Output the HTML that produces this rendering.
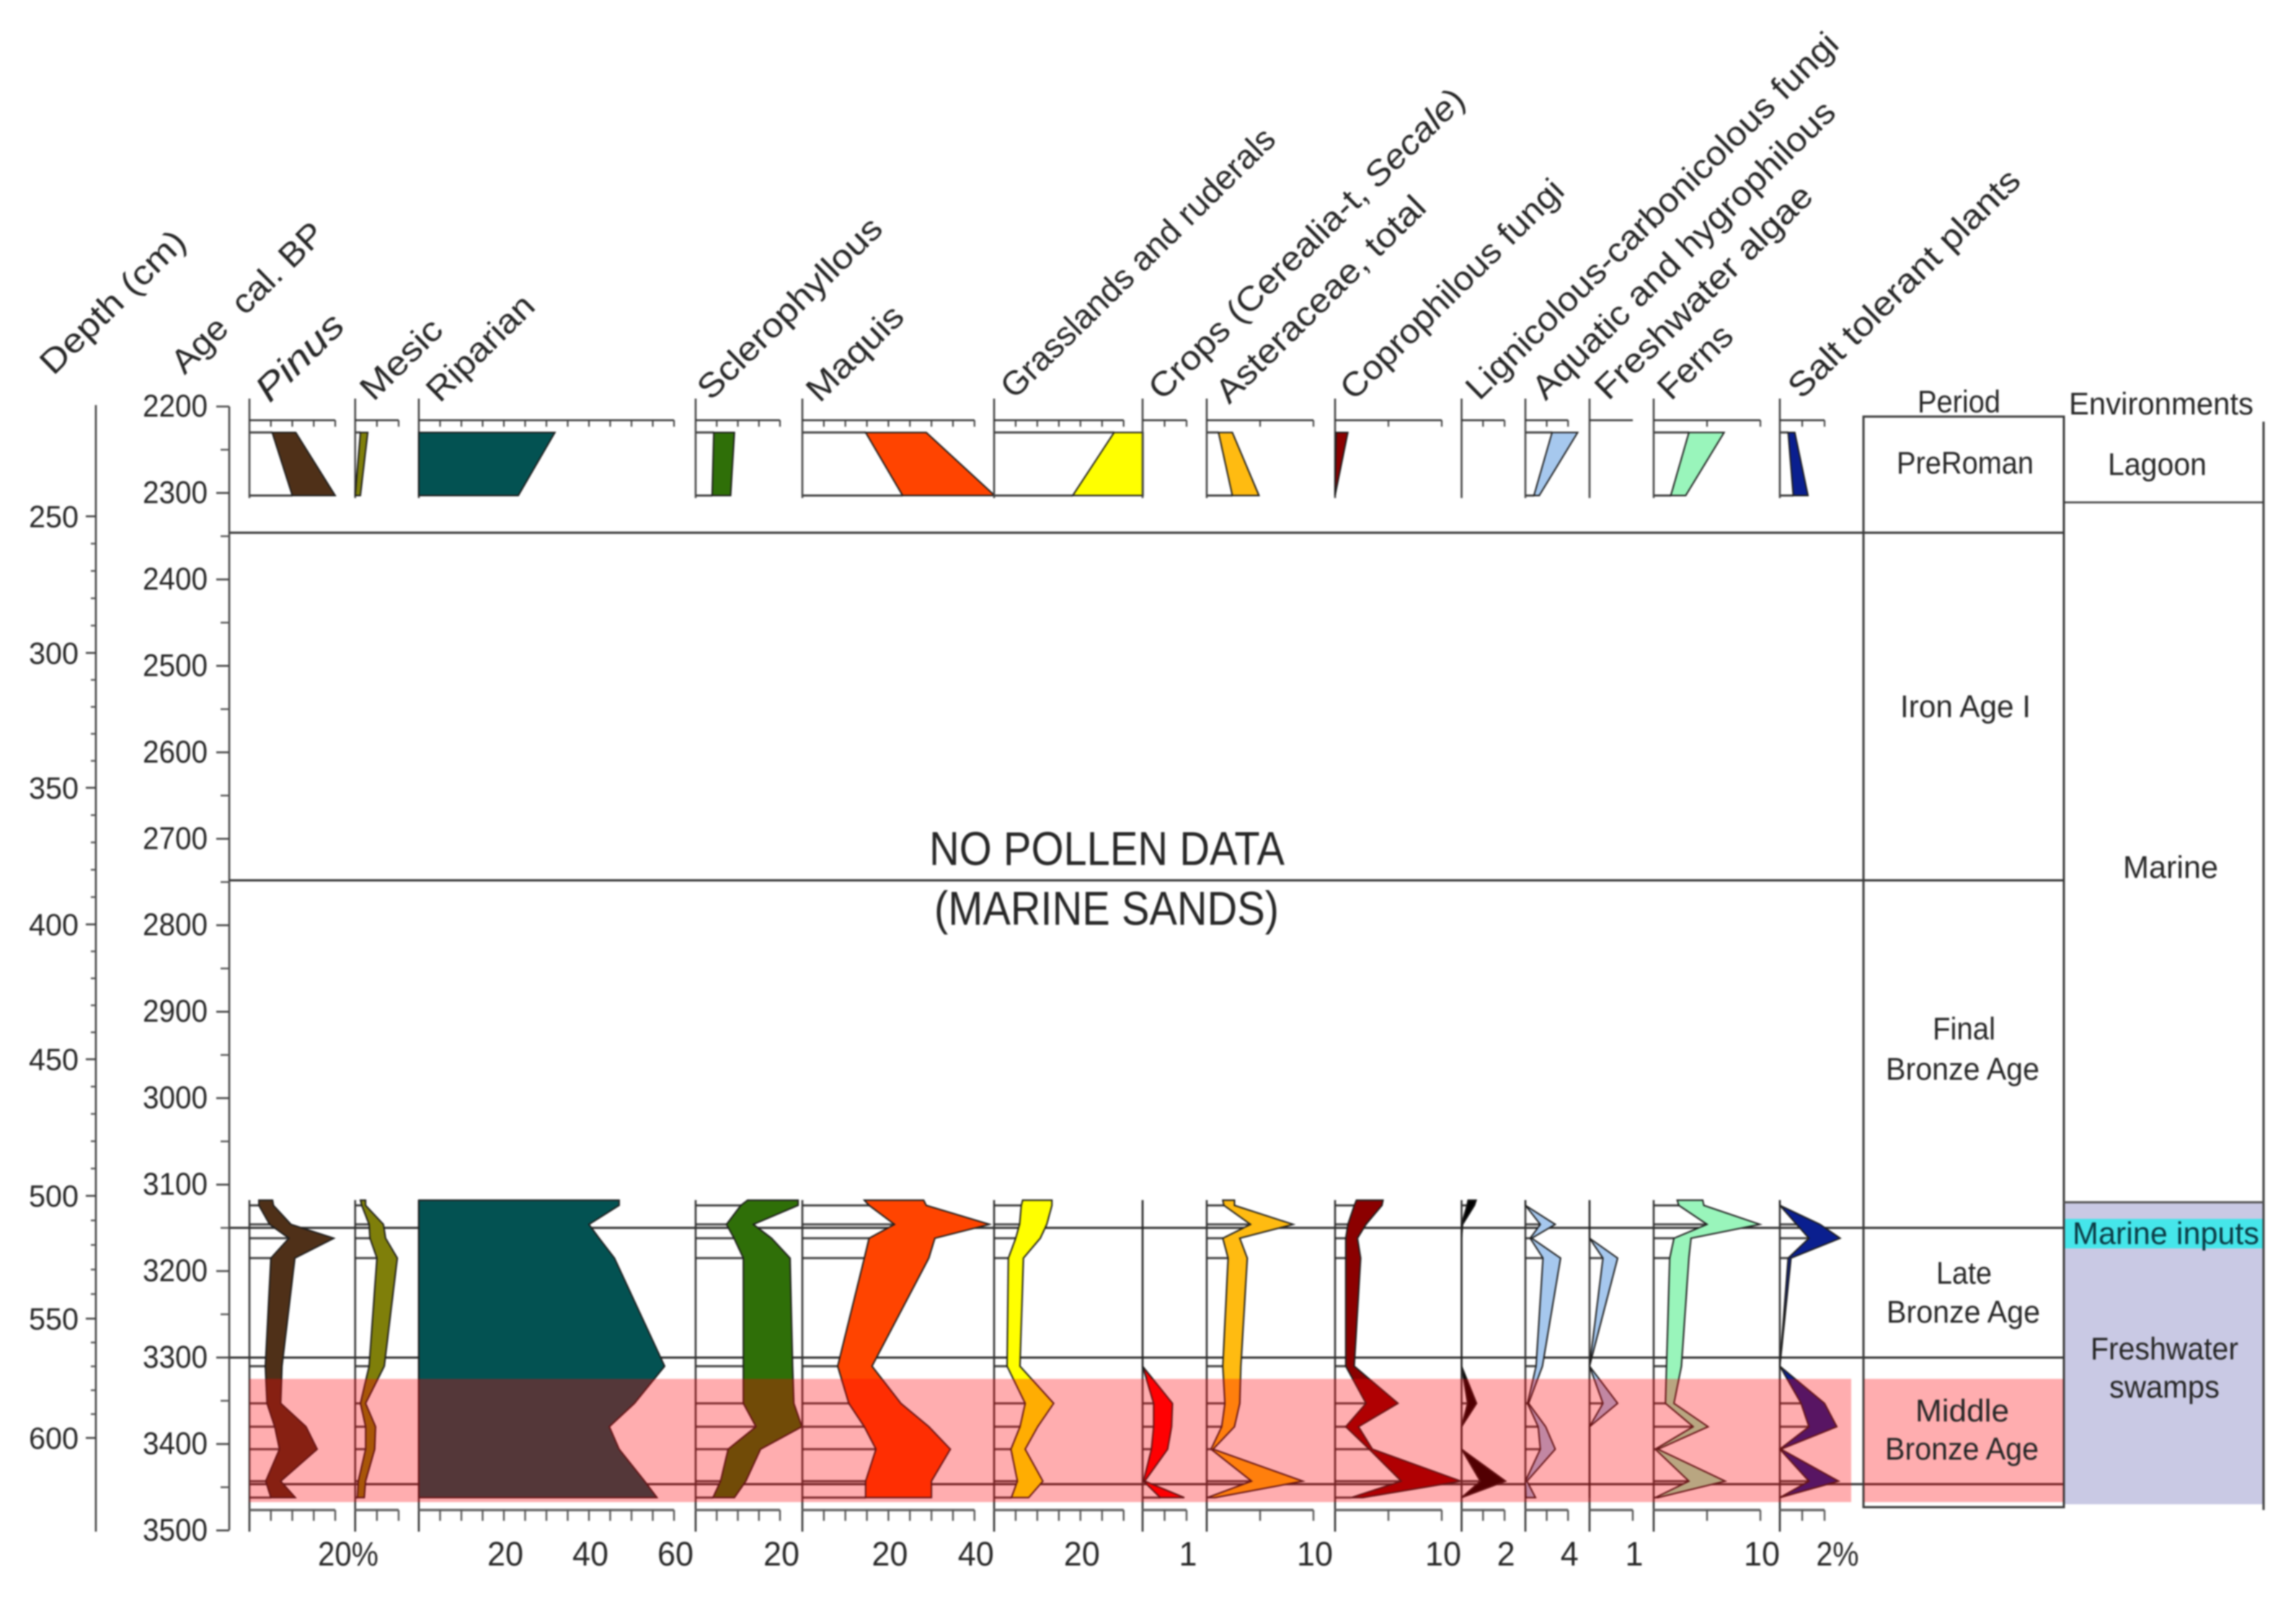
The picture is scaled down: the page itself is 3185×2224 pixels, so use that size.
<!DOCTYPE html>
<html lang="en">
<head>
<meta charset="utf-8">
<title>Pollen diagram</title>
<style>
  html, body { margin: 0; padding: 0; background: #fff; }
  #chart { display: block; width: 3185px; height: 2224px; filter: blur(1px); }
  text { font-family: "Liberation Sans", sans-serif; fill: #262626; }
</style>
</head>
<body>
<svg id="chart" xmlns="http://www.w3.org/2000/svg" width="3185" height="2224" viewBox="0 0 3185 2224">
  <rect x="0" y="0" width="3185" height="2224" fill="#fff"/>

  <g id="env-backdrop">
    <rect x="2864" y="1668" width="276" height="419" fill="#c9c9e4"/>
    <rect x="2864" y="1691" width="276" height="41" fill="#45e6ea"/>
  </g>

  <g id="long-lines"></g>
  <g id="panels"></g>
  <g id="axes"></g>

  <g id="boxes">
    <rect x="2585" y="578" width="278" height="1513" fill="none" stroke="#3a3a3a" stroke-width="3"/>
    <line x1="3140" y1="585" x2="3140" y2="2095" stroke="#3a3a3a" stroke-width="3"/>
    <line x1="2863" y1="697" x2="3140" y2="697" stroke="#3a3a3a" stroke-width="2.5"/>
    <line x1="2863" y1="1668" x2="3140" y2="1668" stroke="#555" stroke-width="3"/>
  </g>

  <g>
    <rect x="346" y="1913" width="2222" height="171" fill="rgb(255,0,5)" fill-opacity="0.32"/>
    <rect x="2586" y="1913" width="276" height="171" fill="rgb(255,0,5)" fill-opacity="0.32"/>
  </g>

  <g font-size="47">
    <text transform="translate(74,522) rotate(-44.5)" textLength="262" lengthAdjust="spacingAndGlyphs">Depth (cm)</text>
    <text transform="translate(256,521) rotate(-44.5)" textLength="276" lengthAdjust="spacingAndGlyphs" xml:space="preserve">Age  cal. BP</text>
    <text transform="translate(374,560) rotate(-44.5)" textLength="150" lengthAdjust="spacingAndGlyphs" font-style="italic" font-size="50">Pinus</text>
    <text transform="translate(518,558) rotate(-44.5)" textLength="139" lengthAdjust="spacingAndGlyphs">Mesic</text>
    <text transform="translate(610,560) rotate(-44.5)" textLength="189" lengthAdjust="spacingAndGlyphs">Riparian</text>
    <text transform="translate(986,557) rotate(-44.5)" textLength="338" lengthAdjust="spacingAndGlyphs">Sclerophyllous</text>
    <text transform="translate(1137,560) rotate(-44.5)" textLength="168" lengthAdjust="spacingAndGlyphs">Maquis</text>
    <text transform="translate(1407,555) rotate(-44.5)" textLength="512" lengthAdjust="spacingAndGlyphs">Grasslands and ruderals</text>
    <text transform="translate(1612,557) rotate(-44.5)" textLength="593" lengthAdjust="spacingAndGlyphs">Crops (Cerealia-t, <tspan font-style="italic">Secale</tspan>)</text>
    <text transform="translate(1705,562) rotate(-44.5)" textLength="387" lengthAdjust="spacingAndGlyphs">Asteraceae, total</text>
    <text transform="translate(1878,557) rotate(-44.5)" textLength="413" lengthAdjust="spacingAndGlyphs">Coprophilous fungi</text>
    <text transform="translate(2052,557) rotate(-44.5)" textLength="703" lengthAdjust="spacingAndGlyphs">Lignicolous-carbonicolous fungi</text>
    <text transform="translate(2144,557) rotate(-44.5)" textLength="568" lengthAdjust="spacingAndGlyphs">Aquatic and hygrophilous</text>
    <text transform="translate(2231,557) rotate(-44.5)" textLength="402" lengthAdjust="spacingAndGlyphs">Freshwater algae</text>
    <text transform="translate(2318,557) rotate(-44.5)" textLength="125" lengthAdjust="spacingAndGlyphs">Ferns</text>
    <text transform="translate(2499,555) rotate(-44.5)" textLength="430" lengthAdjust="spacingAndGlyphs">Salt tolerant plants</text>
  </g>

  <g font-size="66">
    <text x="1289" y="1200" textLength="493" lengthAdjust="spacingAndGlyphs">NO POLLEN DATA</text>
    <text x="1296" y="1283" textLength="478" lengthAdjust="spacingAndGlyphs">(MARINE SANDS)</text>
  </g>

  <g font-size="44">
    <text x="2660" y="572" textLength="115" lengthAdjust="spacingAndGlyphs">Period</text>
    <text x="2631" y="657" textLength="190" lengthAdjust="spacingAndGlyphs">PreRoman</text>
    <text x="2636" y="995" textLength="181" lengthAdjust="spacingAndGlyphs">Iron Age I</text>
    <text x="2681" y="1442" textLength="87" lengthAdjust="spacingAndGlyphs">Final</text>
    <text x="2616" y="1498" textLength="213" lengthAdjust="spacingAndGlyphs">Bronze Age</text>
    <text x="2686" y="1781" textLength="77" lengthAdjust="spacingAndGlyphs">Late</text>
    <text x="2617" y="1835" textLength="213" lengthAdjust="spacingAndGlyphs">Bronze Age</text>
    <text x="2657" y="1972" textLength="130" lengthAdjust="spacingAndGlyphs">Middle</text>
    <text x="2615" y="2025" textLength="213" lengthAdjust="spacingAndGlyphs">Bronze Age</text>
  </g>

  <g font-size="44">
    <text x="2870" y="575" textLength="256" lengthAdjust="spacingAndGlyphs">Environments</text>
    <text x="2924" y="659" textLength="137" lengthAdjust="spacingAndGlyphs">Lagoon</text>
    <text x="2945" y="1218" textLength="132" lengthAdjust="spacingAndGlyphs">Marine</text>
    <text x="2875" y="1726" textLength="259" lengthAdjust="spacingAndGlyphs" style="fill:#0b3a44">Marine inputs</text>
    <text x="2900" y="1886" textLength="205" lengthAdjust="spacingAndGlyphs">Freshwater</text>
    <text x="2926" y="1939" textLength="153" lengthAdjust="spacingAndGlyphs">swamps</text>
  </g>
</svg>

<script>
// Sample ages (cal. BP)
const sampleAges = [3118, 3124, 3146, 3162, 3185, 3310, 3353, 3380, 3406, 3443, 3462];
const topSampleAges = [2230, 2303];

// Axis data
const ageTicks = [2200, 2300, 2400, 2500, 2600, 2700, 2800, 2900, 3000, 3100, 3200, 3300, 3400, 3500];
const depthTicks = [250, 300, 350, 400, 450, 500, 550, 600];
const modelDepths = [250, 300, 350, 400, 450, 500, 550, 600];
const modelAges = [2327, 2485, 2641, 2799, 2955, 3113, 3255, 3393];
const horizonAges = [2346, 2748, 3150, 3300];
const lastHorizonAge = [3446.5];

// Left and right edges of each curve at the lower samples, panel units
const pinusLeft = [2.2, 2.2, 4.7, 9.2, 5.0, 3.7, 4.1, 5.9, 7.0, 3.8, 5.0];
const pinusRight = [5.4, 5.6, 9.7, 19.7, 10.6, 7.6, 7.3, 13.2, 15.8, 7.3, 10.7];
const mesicLeft = [1.2, 1.5, 3.2, 3.4, 5.0, 3.2, 1.2, 2.4, 2.4, 0.7, 0.5];
const mesicRight = [2.4, 2.4, 6.5, 7.0, 9.7, 6.7, 2.4, 4.7, 4.5, 2.4, 2.1];
const riparianLeft = [0, 0, 0, 0, 0, 0, 0, 0, 0, 0, 0];
const riparianRight = [47.1, 47.1, 40.0, 42.4, 46, 57.8, 50.7, 44.8, 47.1, 53.1, 56];
const scleroLeft = [12.3, 10.7, 7.3, 9.1, 11.3, 11.3, 11.3, 14.3, 7.7, 5.9, 4.1];
const scleroRight = [24.3, 24.3, 13.7, 18, 22.4, 23, 23.3, 25.2, 15.4, 11.9, 9.2];
const maquisLeft = [14.4, 15.5, 21.4, 15.5, 14.4, 8.2, 10.8, 14.4, 17.1, 14.7, 14.7];
const maquisRight = [28.2, 28.8, 43.5, 30.8, 29.4, 16.2, 22.9, 29.4, 34.4, 30, 30];
const grassLeft = [6.6, 6.3, 5.9, 5.0, 3.3, 3.0, 7.2, 6.0, 3.9, 5.4, 4.0];
const grassRight = [13.4, 13.4, 12.2, 10.7, 6.8, 6.0, 13.8, 10.1, 7.2, 11.3, 8.0];
const cropsLeft = [0, 0, 0, 0, 0, 0, 0.25, 0.25, 0.2, 0.02, 0.4];
const cropsRight = [0, 0, 0, 0, 0, 0, 0.68, 0.66, 0.57, 0.05, 0.95];
const asterLeft = [1.5, 1.6, 4.1, 1.5, 2.0, 1.5, 1.7, 1.4, 0.4, 4.2, 0.05];
const asterRight = [2.6, 2.6, 8.1, 3.1, 3.8, 3.2, 3.1, 2.6, 0.6, 9, 0.8];
const coproLeft = [2.0, 1.8, 1.2, 1.0, 1.0, 1.0, 2.9, 1.0, 3.2, 6.2, 1.5];
const coproRight = [4.5, 4.4, 2.9, 2.1, 2.4, 1.8, 5.9, 2.2, 3.5, 11.8, 2.6];
const lignLeft = [0.3, 0.25, 0, 0, 0, 0, 0.28, 0, 0, 0.87, 0];
const lignRight = [0.68, 0.6, 0.05, 0, 0, 0, 0.7, 0, 0, 2.05, 0];
const aquaticLeft = [0, 0, 1.4, 0.45, 1.65, 1.0, 0.2, 1.2, 1.4, 0, 0.05];
const aquaticRight = [0, 0, 2.8, 0.6, 3.3, 1.6, 0.3, 1.9, 2.8, 0.15, 0.95];
const algaeLeft = [0, 0, 0, 0, 0.31, 0, 0.31, 0, 0, 0, 0];
const algaeRight = [0, 0, 0, 0, 0.65, 0, 0.65, 0, 0, 0, 0];
const fernsLeft = [2.2, 2.35, 5.0, 1.9, 1.5, 1.2, 1.1, 3.7, 0.15, 3.3, 0.15];
const fernsRight = [4.6, 4.7, 9.95, 3.5, 3.3, 2.6, 1.9, 5.1, 0.4, 6.7, 0.4];
const saltLeft = [0, 0, 0.75, 1.3, 0.37, 0, 0.95, 1.3, 0, 1.3, 0];
const saltRight = [0, 0, 1.8, 2.7, 0.5, 0, 2.0, 2.55, 0.05, 2.63, 0];

// Left and right edges at the two upper samples
const pinusTopLeft = [5.3, 10.0];
const pinusTopRight = [10.8, 20];
const mesicTopLeft = [1.2, 0];
const mesicTopRight = [2.9, 1.2];
const riparianTopLeft = [0, 0];
const riparianTopRight = [32, 23.4];
const scleroTopLeft = [4.3, 3.9];
const scleroTopRight = [9.2, 8.3];
const maquisTopLeft = [14.7, 23.3];
const maquisTopRight = [28.8, 44.7];
const grassTopLeft = [27.8, 18.2];
const grassTopRight = [34.5, 34.5];
const asterTopLeft = [1.1, 2.4];
const asterTopRight = [2.4, 4.9];
const coproTopLeft = [0.1, 0];
const coproTopRight = [1.2, 0];
const aquaticTopLeft = [2.5, 0.8];
const aquaticTopRight = [4.9, 1.3];
const fernsTopLeft = [3.3, 1.6];
const fernsTopRight = [6.6, 3.0];
const saltTopLeft = [0.37, 0.6];
const saltTopRight = [0.67, 1.26];
const noTopValues = [];

// Axis ticks and printed labels per panel
const pinusTicks = [5, 10, 15, 20];
const pinusLabels = ["", "", "", "20%"];
const mesicTicks = [5, 10];
const mesicLabels = ["", ""];
const riparianTicks = [5, 10, 15, 20, 25, 30, 35, 40, 45, 50, 55, 60];
const riparianLabels = ["", "", "", "20", "", "", "", "40", "", "", "", "60"];
const scleroTicks = [5, 10, 15, 20];
const scleroLabels = ["", "", "", "20"];
const maquisTicks = [5, 10, 15, 20, 25, 30, 35, 40];
const maquisLabels = ["", "", "", "20", "", "", "", "40"];
const grassTicks = [5, 10, 15, 20, 25, 30];
const grassLabels = ["", "", "", "20", "", ""];
const cropsTicks = [0.5, 1];
const cropsLabels = ["", "1"];
const asterTicks = [5, 10];
const asterLabels = ["", "10"];
const coproTicks = [5, 10];
const coproLabels = ["", "10"];
const lignTicks = [1, 2];
const lignLabels = ["", "2"];
const aquaticTicks = [2, 4];
const aquaticLabels = ["", "4"];
const algaeTicks = [1];
const algaeLabels = ["1"];
const fernsTicks = [5, 10];
const fernsLabels = ["", "10"];
const saltTicks = [1, 2];
const saltLabels = ["", "2%"];

// Panel layout and wiring
const panels = [
  { id: "pinus", base: 346, unit: 5.95, fill: "#4f3018", left: pinusLeft, right: pinusRight, topLeft: pinusTopLeft, topRight: pinusTopRight, ticks: pinusTicks, labels: pinusLabels },
  { id: "mesic", base: 492.7, unit: 6.03, fill: "#7f7f0a", left: mesicLeft, right: mesicRight, topLeft: mesicTopLeft, topRight: mesicTopRight, ticks: mesicTicks, labels: mesicLabels },
  { id: "riparian", base: 581, unit: 5.9, fill: "#035252", left: riparianLeft, right: riparianRight, topLeft: riparianTopLeft, topRight: riparianTopRight, ticks: riparianTicks, labels: riparianLabels },
  { id: "sclerophyllous", base: 965, unit: 5.85, fill: "#2f6f08", left: scleroLeft, right: scleroRight, topLeft: scleroTopLeft, topRight: scleroTopRight, ticks: scleroTicks, labels: scleroLabels },
  { id: "maquis", base: 1113, unit: 5.97, fill: "#ff4400", left: maquisLeft, right: maquisRight, topLeft: maquisTopLeft, topRight: maquisTopRight, ticks: maquisTicks, labels: maquisLabels },
  { id: "grasslands", base: 1379, unit: 5.99, fill: "#ffff00", left: grassLeft, right: grassRight, topLeft: grassTopLeft, topRight: grassTopRight, ticks: grassTicks, labels: grassLabels },
  { id: "crops", base: 1585, unit: 61, fill: "#ff0000", left: cropsLeft, right: cropsRight, topLeft: noTopValues, topRight: noTopValues, ticks: cropsTicks, labels: cropsLabels },
  { id: "asteraceae", base: 1674, unit: 14.8, fill: "#ffbb11", left: asterLeft, right: asterRight, topLeft: asterTopLeft, topRight: asterTopRight, ticks: asterTicks, labels: asterLabels },
  { id: "coprophilous", base: 1852, unit: 14.8, fill: "#8b0000", left: coproLeft, right: coproRight, topLeft: coproTopLeft, topRight: coproTopRight, ticks: coproTicks, labels: coproLabels },
  { id: "lignicolous", base: 2027.5, unit: 29.8, fill: "#000000", left: lignLeft, right: lignRight, topLeft: noTopValues, topRight: noTopValues, ticks: lignTicks, labels: lignLabels },
  { id: "aquatic", base: 2116, unit: 14.8, fill: "#a6c8ee", left: aquaticLeft, right: aquaticRight, topLeft: aquaticTopLeft, topRight: aquaticTopRight, ticks: aquaticTicks, labels: aquaticLabels },
  { id: "freshwater-algae", base: 2205, unit: 60, fill: "#a6c8ee", left: algaeLeft, right: algaeRight, topLeft: noTopValues, topRight: noTopValues, ticks: algaeTicks, labels: algaeLabels, noTopTicks: true },
  { id: "ferns", base: 2294, unit: 14.8, fill: "#99f5bb", left: fernsLeft, right: fernsRight, topLeft: fernsTopLeft, topRight: fernsTopRight, ticks: fernsTicks, labels: fernsLabels },
  { id: "salt-tolerant", base: 2469, unit: 31, fill: "#0a1f8f", left: saltLeft, right: saltRight, topLeft: saltTopLeft, topRight: saltTopRight, ticks: saltTicks, labels: saltLabels }
];

const SVGNS = "http://www.w3.org/2000/svg";
const ageY = a => 564 + (a - 2200) * 1.1995;
function depthToAge(d) {
  let i = 0;
  while (i < modelDepths.length - 2 && d > modelDepths[i + 1]) i++;
  const t = (d - modelDepths[i]) / (modelDepths[i + 1] - modelDepths[i]);
  return modelAges[i] + t * (modelAges[i + 1] - modelAges[i]);
}
const depthY = d => ageY(depthToAge(d));

function node(parent, tag, props) {
  const el = document.createElementNS(SVGNS, tag);
  for (const k in props) el.setAttribute(k, props[k]);
  parent.appendChild(el);
  return el;
}

// Horizon lines
const longLines = document.getElementById("long-lines");
horizonAges.forEach(a => {
  const el = node(longLines, "line", { x1: 318, x2: 2863, y1: ageY(a), y2: ageY(a), stroke: "#333", "stroke-width": 3 });
  
  
});
lastHorizonAge.forEach(a => {
  const el = node(longLines, "line", { x1: 346, x2: 2863, y1: ageY(a), y2: ageY(a), stroke: "#333", "stroke-width": 3 });
  
  
});

// Panels
const panelRoot = document.getElementById("panels");
function curve(g, p, ages, left, right, name) {
  const x = v => p.base + v * p.unit;
  const fwd = ages.map((a, i) => x(left[i]) + "," + ageY(a));
  const back = ages.map((a, i) => x(right[i]) + "," + ageY(a)).reverse();
  const el = node(g, "polygon", { points: fwd.concat(back).join(" "), fill: p.fill, stroke: "#1c1c1c", "stroke-width": 2, "stroke-linejoin": "miter" });
  
  
}
function sampleLines(g, p, ages, left, start) {
  ages.forEach((a, i) => {
    if (i < start || left[i] <= 0.03) return;
    const el = node(g, "line", { x1: p.base, x2: p.base + left[i] * p.unit, y1: ageY(a), y2: ageY(a), stroke: "#444", "stroke-width": 3 });
    
    
  });
}
panels.forEach(p => {
  const g = node(panelRoot, "g", {});
  
  
  const x = v => p.base + v * p.unit;
  const maxTick = p.ticks[p.ticks.length - 1];

  sampleLines(g, p, sampleAges, p.left, 1);
  if (p.topLeft.length) sampleLines(g, p, topSampleAges, p.topLeft, 0);

  const upper = node(g, "line", { x1: p.base, x2: p.base, y1: 553, y2: 691, stroke: "#444", "stroke-width": 2.6 });
  
  
  const lower = node(g, "line", { x1: p.base, x2: p.base, y1: 1665, y2: 2125, stroke: "#333", "stroke-width": 2.6 });
  
  

  curve(g, p, sampleAges, p.left, p.right, 'curve-' + p.id);
  if (p.topLeft.length) curve(g, p, topSampleAges, p.topLeft, p.topRight, 'curve-top-' + p.id);

  const topAxis = node(g, "line", { x1: p.base, x2: x(maxTick), y1: 583, y2: 583, stroke: "#333", "stroke-width": 2.6 });
  
  
  const botAxis = node(g, "line", { x1: p.base, x2: x(maxTick), y1: 2095, y2: 2095, stroke: "#666", "stroke-width": 3.5 });
  
  

  p.ticks.forEach((t, i) => {
    if (!p.noTopTicks) {
      const tt = node(g, "line", { x1: x(t), x2: x(t), y1: 583, y2: 592, stroke: "#444", "stroke-width": 2.2 });
      
      
    }
    const bt = node(g, "line", { x1: x(t), x2: x(t), y1: 2095, y2: 2110, stroke: "#555", "stroke-width": 2.4 });
    
    
    const label = p.labels[i];
    if (label) {
      const pct = label.indexOf("%") >= 0;
      const tx = node(g, "text", { x: x(t) + (pct ? 18 : 2), y: 2172, "text-anchor": "middle", "font-size": 47 });
      
      
      const digits = label.replace("%", "").length;
      tx.setAttribute("textLength", pct ? digits * 25 + 34 : digits * 25);
      tx.setAttribute("lengthAdjust", "spacingAndGlyphs");
      tx.textContent = label;
    }
  });
});

// Depth and age axes
const axes = document.getElementById("axes");
const depthLine = node(axes, "line", { x1: 133, x2: 133, y1: 562, y2: 2125, stroke: "#444", "stroke-width": 2.6 });


const ageLine = node(axes, "line", { x1: 318, x2: 318, y1: 564, y2: 2123, stroke: "#444", "stroke-width": 2.6 });



depthTicks.forEach((d, i) => {
  const y = depthY(d);
  const mj = node(axes, "line", { x1: 119, x2: 133, y1: y, y2: y, stroke: "#444", "stroke-width": 2.6 });
  
  
  const tx = node(axes, "text", { x: 109, y: y + 15, "text-anchor": "end", "font-size": 43, textLength: 69, lengthAdjust: "spacingAndGlyphs" });
  
  
  tx.textContent = String(d);
  if (i < depthTicks.length - 1) {
    [10, 20, 30, 40].forEach(step => {
      const my = depthY(d + step);
      const mn = node(axes, "line", { x1: 126, x2: 133, y1: my, y2: my, stroke: "#555", "stroke-width": 2.4 });
      
      
    });
  }
});

ageTicks.forEach((a, i) => {
  const y = ageY(a);
  const mj = node(axes, "line", { x1: 300, x2: 318, y1: y, y2: y, stroke: "#444", "stroke-width": 2.6 });
  
  
  const tx = node(axes, "text", { x: 288, y: y + 14, "text-anchor": "end", "font-size": 44, textLength: 90, lengthAdjust: "spacingAndGlyphs" });
  
  
  tx.textContent = String(a);
  if (i < ageTicks.length - 1) {
    const my = ageY(a + 50);
    const mn = node(axes, "line", { x1: 306, x2: 318, y1: my, y2: my, stroke: "#555", "stroke-width": 2.4 });
    
    
  }
});
</script>
</body>
</html>
